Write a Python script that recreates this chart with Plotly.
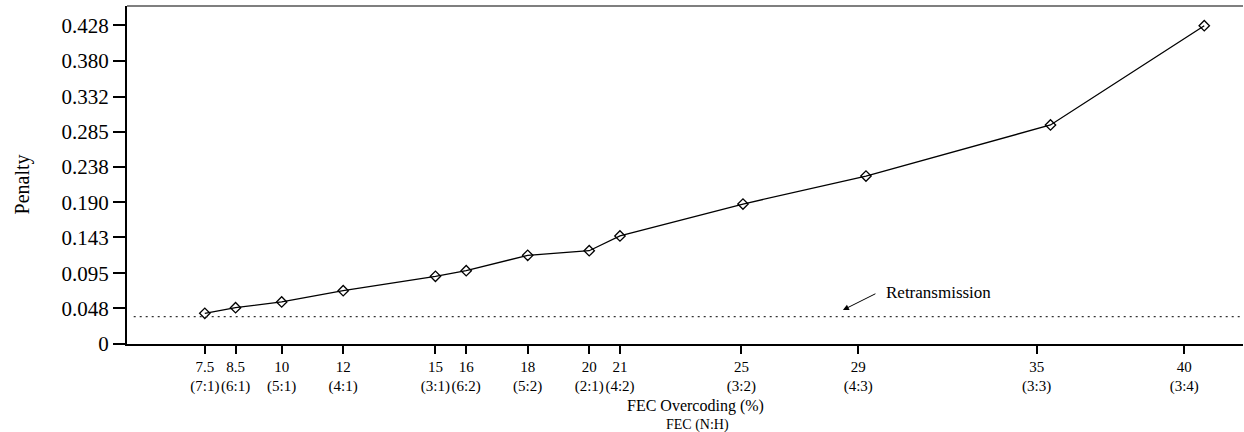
import plotly.graph_objects as go

# ---- data ----
overcoding = [7.5, 8.5, 10, 12, 15, 16, 18, 20, 21, 25, 29, 35, 40]
penalty = [0.0412, 0.0487, 0.0564, 0.0715, 0.0909, 0.0984, 0.119, 0.1252,
           0.145, 0.1879, 0.2255, 0.294, 0.4272]
fec_ratio = ["7:1", "6:1", "5:1", "4:1", "3:1", "6:2", "5:2", "2:1", "4:2",
             "3:2", "4:3", "3:3", "3:4"]
# tick positions as drawn in the reference (later ticks drift left of the points)
x_tick_positions = [7.5, 8.5, 10, 12, 15, 16, 18, 20, 21, 24.95, 28.75, 34.55, 39.35]
x_tick_numbers = ["7.5", "8.5", "10", "12", "15", "16", "18", "20", "21",
                  "25", "29", "35", "40"]
y_tick_values = [0, 0.048, 0.095, 0.143, 0.190, 0.238, 0.285, 0.332, 0.380, 0.428]
y_tick_labels = ["0", "0.048", "0.095", "0.143", "0.190", "0.238", "0.285",
                 "0.332", "0.380", "0.428"]
retransmission_penalty = 0.0367
arrow_point = (28.25, 0.0456)
label_point = (29.6, 0.0685)

x_range = [4.97, 41.26]
y_range = [0, 0.4537]

FONT = "Liberation Serif"

x_tick_text = [f"{n}<br>({r})" for n, r in zip(x_tick_numbers, fec_ratio)]

fig = go.Figure()
fig.add_trace(go.Scatter(
    x=overcoding, y=penalty, mode="lines+markers",
    line=dict(color="black", width=1.3),
    marker=dict(symbol="diamond-open", size=8, color="black",
                line=dict(color="black", width=1.3)),
    showlegend=False, hoverinfo="x+y",
))

fig.add_shape(type="line", xref="paper", yref="y",
              x0=0.006, x1=1, y0=retransmission_penalty, y1=retransmission_penalty,
              line=dict(color="#333333", width=1.2, dash="2px,4px"))
# top border
fig.add_shape(type="line", xref="paper", yref="paper", x0=0, x1=1, y0=1, y1=1,
              line=dict(color="#555555", width=1.5))

fig.add_annotation(x=arrow_point[0], y=arrow_point[1], ax=34, ay=-17,
                   xref="x", yref="y", showarrow=True, arrowhead=2,
                   arrowsize=1.2, arrowwidth=1, arrowcolor="black", text="")
fig.add_annotation(x=label_point[0], y=label_point[1], xref="x", yref="y",
                   text="Retransmission", showarrow=False, xanchor="left",
                   yanchor="middle", font=dict(family=FONT, size=17, color="black"))

fig.add_annotation(x=0.509, y=-0.1835, xref="paper", yref="paper",
                   text="FEC Overcoding (%)", showarrow=False,
                   xanchor="center", yanchor="middle",
                   font=dict(family=FONT, size=16, color="black"))
fig.add_annotation(x=0.5116, y=-0.2385, xref="paper", yref="paper",
                   text="FEC (N:H)", showarrow=False,
                   xanchor="center", yanchor="middle",
                   font=dict(family=FONT, size=14, color="black"))
fig.add_annotation(x=-0.0941, y=0.472, xref="paper", yref="paper",
                   text="Penalty", showarrow=False, textangle=-90,
                   xanchor="center", yanchor="middle",
                   font=dict(family=FONT, size=20, color="black"))

fig.update_xaxes(range=x_range, tickmode="array", tickvals=x_tick_positions,
                 ticktext=x_tick_text, showgrid=False, zeroline=False,
                 showline=True, linecolor="black", linewidth=1.5,
                 ticks="outside", ticklen=8, tickwidth=1.5, tickcolor="black",
                 tickfont=dict(family=FONT, size=15, color="black"),
                 tickangle=0)
fig.update_yaxes(range=y_range, tickmode="array", tickvals=y_tick_values,
                 ticktext=y_tick_labels, showgrid=False, zeroline=False,
                 showline=True, linecolor="black", linewidth=2,
                 ticks="outside", ticklen=12, tickwidth=1.5, tickcolor="black",
                 tickfont=dict(family=FONT, size=21, color="black"))

fig.update_layout(width=1244, height=432,
                  margin=dict(l=127, r=1, t=6, b=88),
                  plot_bgcolor="white", paper_bgcolor="white",
                  font=dict(family=FONT, color="black"))

fig.write_html("out.html")
